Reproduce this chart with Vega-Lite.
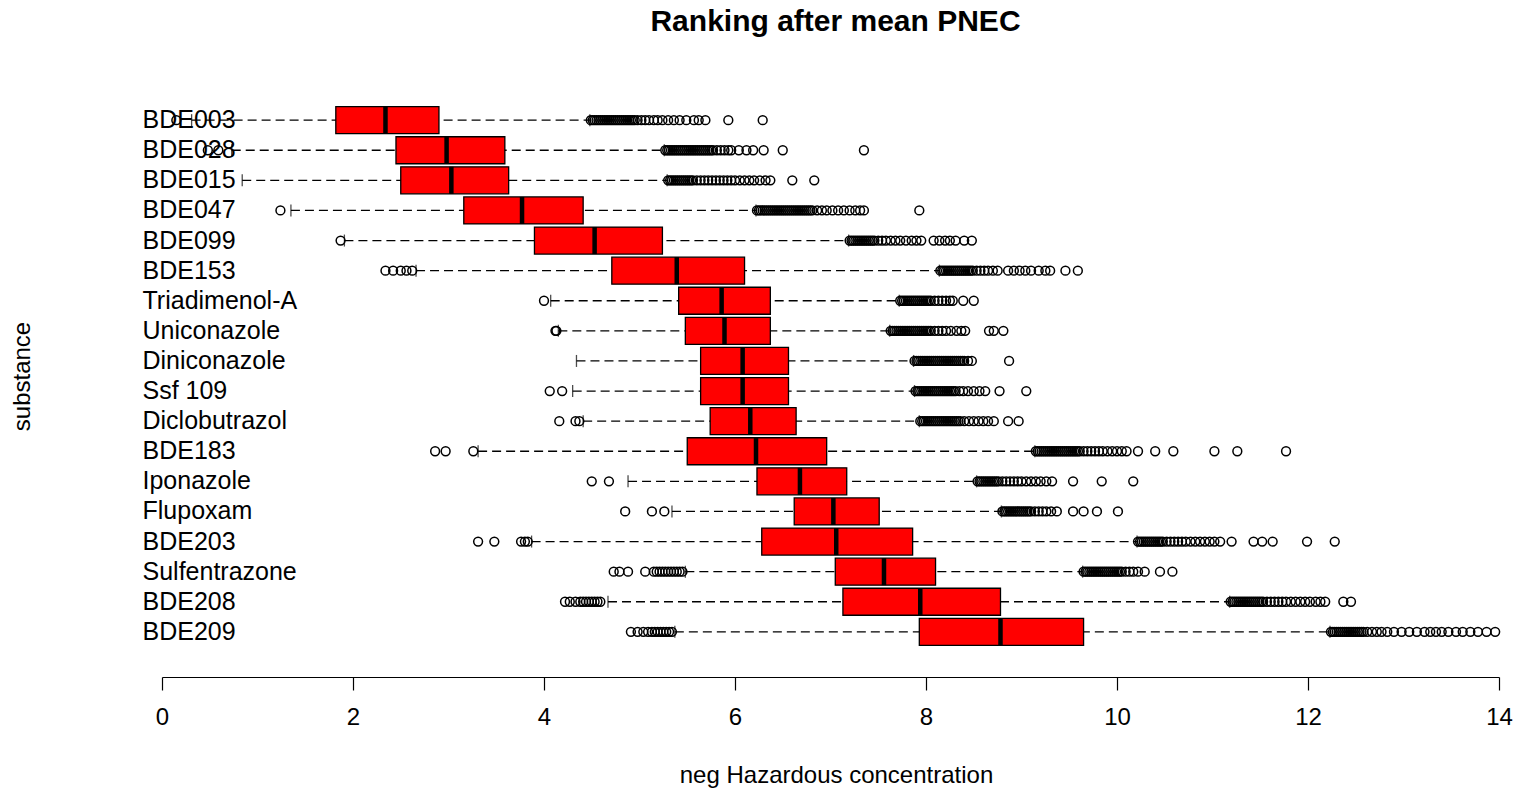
{
  "$schema": "https://vega.github.io/schema/vega-lite/v6.json",
  "width": 1337,
  "height": 602,
  "autosize": "none",
  "padding": {"left": 162, "top": 75, "right": 20, "bottom": 114},
  "background": "white",
  "title": {
    "text": "Ranking after mean PNEC",
    "font": "Liberation Sans",
    "fontSize": 30,
    "fontWeight": "bold",
    "color": "black",
    "anchor": "middle",
    "frame": "group",
    "baseline": "alphabetic",
    "offset": 44,
    "dx": 5,
    "dy": 30
  },
  "config": {
    "view": {"stroke": null},
    "axis": {"grid": false, "labelFont": "Liberation Sans", "titleFont": "Liberation Sans", "labelColor": "black", "titleColor": "black", "titleFontWeight": "normal"}
  },
  "datasets": {
    "box": [
      {"s": "BDE003", "lo": 0.31, "q1": 1.82, "med": 2.34, "q3": 2.90, "hi": 4.48},
      {"s": "BDE028", "lo": 0.73, "q1": 2.45, "med": 2.98, "q3": 3.59, "hi": 5.26},
      {"s": "BDE015", "lo": 0.84, "q1": 2.50, "med": 3.03, "q3": 3.63, "hi": 5.29},
      {"s": "BDE047", "lo": 1.35, "q1": 3.16, "med": 3.77, "q3": 4.41, "hi": 6.22},
      {"s": "BDE099", "lo": 1.91, "q1": 3.90, "med": 4.53, "q3": 5.24, "hi": 7.19},
      {"s": "BDE153", "lo": 2.66, "q1": 4.71, "med": 5.39, "q3": 6.10, "hi": 8.14},
      {"s": "Triadimenol-A", "lo": 4.07, "q1": 5.41, "med": 5.86, "q3": 6.37, "hi": 7.72},
      {"s": "Uniconazole", "lo": 4.15, "q1": 5.48, "med": 5.89, "q3": 6.37, "hi": 7.62},
      {"s": "Diniconazole", "lo": 4.34, "q1": 5.64, "med": 6.08, "q3": 6.56, "hi": 7.87},
      {"s": "Ssf 109", "lo": 4.30, "q1": 5.64, "med": 6.08, "q3": 6.56, "hi": 7.88},
      {"s": "Diclobutrazol", "lo": 4.41, "q1": 5.74, "med": 6.16, "q3": 6.64, "hi": 7.93},
      {"s": "BDE183", "lo": 3.31, "q1": 5.50, "med": 6.22, "q3": 6.96, "hi": 9.14},
      {"s": "Iponazole", "lo": 4.88, "q1": 6.23, "med": 6.68, "q3": 7.17, "hi": 8.53},
      {"s": "Flupoxam", "lo": 5.34, "q1": 6.62, "med": 7.03, "q3": 7.51, "hi": 8.79},
      {"s": "BDE203", "lo": 3.87, "q1": 6.28, "med": 7.06, "q3": 7.86, "hi": 10.21},
      {"s": "Sulfentrazone", "lo": 5.48, "q1": 7.05, "med": 7.56, "q3": 8.10, "hi": 9.64},
      {"s": "BDE208", "lo": 4.67, "q1": 7.13, "med": 7.94, "q3": 8.78, "hi": 11.18},
      {"s": "BDE209", "lo": 5.37, "q1": 7.93, "med": 8.78, "q3": 9.65, "hi": 12.23}
    ],
    "out": [
      {"s":"BDE003","v":0.15},
      {"s":"BDE003","v":4.49},{"s":"BDE003","v":4.51},{"s":"BDE003","v":4.53},{"s":"BDE003","v":4.55},{"s":"BDE003","v":4.57},{"s":"BDE003","v":4.59},{"s":"BDE003","v":4.61},{"s":"BDE003","v":4.63},{"s":"BDE003","v":4.65},{"s":"BDE003","v":4.67},{"s":"BDE003","v":4.69},{"s":"BDE003","v":4.71},{"s":"BDE003","v":4.73},{"s":"BDE003","v":4.75},{"s":"BDE003","v":4.77},{"s":"BDE003","v":4.79},{"s":"BDE003","v":4.81},{"s":"BDE003","v":4.83},{"s":"BDE003","v":4.85},{"s":"BDE003","v":4.87},{"s":"BDE003","v":4.89},{"s":"BDE003","v":4.91},{"s":"BDE003","v":4.93},{"s":"BDE003","v":4.95},
      {"s":"BDE003","v":4.98},{"s":"BDE003","v":5.02},{"s":"BDE003","v":5.06},{"s":"BDE003","v":5.10},{"s":"BDE003","v":5.15},{"s":"BDE003","v":5.19},{"s":"BDE003","v":5.24},{"s":"BDE003","v":5.30},{"s":"BDE003","v":5.36},{"s":"BDE003","v":5.42},{"s":"BDE003","v":5.49},{"s":"BDE003","v":5.57},{"s":"BDE003","v":5.62},{"s":"BDE003","v":5.69},{"s":"BDE003","v":5.93},{"s":"BDE003","v":6.29},
      {"s":"BDE028","v":0.48},{"s":"BDE028","v":0.59},
      {"s":"BDE028","v":5.27},{"s":"BDE028","v":5.29},{"s":"BDE028","v":5.31},{"s":"BDE028","v":5.33},{"s":"BDE028","v":5.35},{"s":"BDE028","v":5.37},{"s":"BDE028","v":5.39},{"s":"BDE028","v":5.41},{"s":"BDE028","v":5.43},{"s":"BDE028","v":5.45},{"s":"BDE028","v":5.47},{"s":"BDE028","v":5.49},{"s":"BDE028","v":5.51},{"s":"BDE028","v":5.53},{"s":"BDE028","v":5.55},{"s":"BDE028","v":5.57},{"s":"BDE028","v":5.59},{"s":"BDE028","v":5.61},{"s":"BDE028","v":5.63},{"s":"BDE028","v":5.65},{"s":"BDE028","v":5.67},{"s":"BDE028","v":5.69},{"s":"BDE028","v":5.71},{"s":"BDE028","v":5.73},{"s":"BDE028","v":5.75},{"s":"BDE028","v":5.77},
      {"s":"BDE028","v":5.81},{"s":"BDE028","v":5.85},{"s":"BDE028","v":5.89},{"s":"BDE028","v":5.93},{"s":"BDE028","v":5.96},{"s":"BDE028","v":6.04},{"s":"BDE028","v":6.12},{"s":"BDE028","v":6.19},{"s":"BDE028","v":6.30},{"s":"BDE028","v":6.50},{"s":"BDE028","v":7.35},
      {"s":"BDE015","v":5.30},{"s":"BDE015","v":5.32},{"s":"BDE015","v":5.34},{"s":"BDE015","v":5.36},{"s":"BDE015","v":5.38},{"s":"BDE015","v":5.40},{"s":"BDE015","v":5.42},{"s":"BDE015","v":5.44},{"s":"BDE015","v":5.46},{"s":"BDE015","v":5.48},{"s":"BDE015","v":5.50},{"s":"BDE015","v":5.52},{"s":"BDE015","v":5.54},{"s":"BDE015","v":5.56},
      {"s":"BDE015","v":5.60},{"s":"BDE015","v":5.64},{"s":"BDE015","v":5.68},{"s":"BDE015","v":5.72},{"s":"BDE015","v":5.76},{"s":"BDE015","v":5.80},{"s":"BDE015","v":5.84},{"s":"BDE015","v":5.88},{"s":"BDE015","v":5.92},{"s":"BDE015","v":5.96},{"s":"BDE015","v":6.00},{"s":"BDE015","v":6.05},{"s":"BDE015","v":6.10},{"s":"BDE015","v":6.15},{"s":"BDE015","v":6.20},{"s":"BDE015","v":6.26},{"s":"BDE015","v":6.32},{"s":"BDE015","v":6.37},{"s":"BDE015","v":6.60},{"s":"BDE015","v":6.83},
      {"s":"BDE047","v":1.24},
      {"s":"BDE047","v":6.23},{"s":"BDE047","v":6.25},{"s":"BDE047","v":6.27},{"s":"BDE047","v":6.29},{"s":"BDE047","v":6.31},{"s":"BDE047","v":6.33},{"s":"BDE047","v":6.35},{"s":"BDE047","v":6.37},{"s":"BDE047","v":6.39},{"s":"BDE047","v":6.41},{"s":"BDE047","v":6.43},{"s":"BDE047","v":6.45},{"s":"BDE047","v":6.47},{"s":"BDE047","v":6.49},{"s":"BDE047","v":6.51},{"s":"BDE047","v":6.53},{"s":"BDE047","v":6.55},{"s":"BDE047","v":6.57},{"s":"BDE047","v":6.59},{"s":"BDE047","v":6.61},{"s":"BDE047","v":6.63},{"s":"BDE047","v":6.65},{"s":"BDE047","v":6.67},{"s":"BDE047","v":6.69},{"s":"BDE047","v":6.71},{"s":"BDE047","v":6.73},{"s":"BDE047","v":6.75},{"s":"BDE047","v":6.77},{"s":"BDE047","v":6.79},{"s":"BDE047","v":6.81},
      {"s":"BDE047","v":6.86},{"s":"BDE047","v":6.91},{"s":"BDE047","v":6.96},{"s":"BDE047","v":7.02},{"s":"BDE047","v":7.08},{"s":"BDE047","v":7.14},{"s":"BDE047","v":7.20},{"s":"BDE047","v":7.26},{"s":"BDE047","v":7.31},{"s":"BDE047","v":7.35},{"s":"BDE047","v":7.93},
      {"s":"BDE099","v":1.87},
      {"s":"BDE099","v":7.20},{"s":"BDE099","v":7.22},{"s":"BDE099","v":7.24},{"s":"BDE099","v":7.26},{"s":"BDE099","v":7.28},{"s":"BDE099","v":7.30},{"s":"BDE099","v":7.32},{"s":"BDE099","v":7.34},{"s":"BDE099","v":7.36},{"s":"BDE099","v":7.38},{"s":"BDE099","v":7.40},{"s":"BDE099","v":7.42},{"s":"BDE099","v":7.44},{"s":"BDE099","v":7.46},
      {"s":"BDE099","v":7.50},{"s":"BDE099","v":7.54},{"s":"BDE099","v":7.58},{"s":"BDE099","v":7.63},{"s":"BDE099","v":7.68},{"s":"BDE099","v":7.73},{"s":"BDE099","v":7.79},{"s":"BDE099","v":7.85},{"s":"BDE099","v":7.90},{"s":"BDE099","v":7.95},{"s":"BDE099","v":8.08},{"s":"BDE099","v":8.14},{"s":"BDE099","v":8.20},{"s":"BDE099","v":8.25},{"s":"BDE099","v":8.31},{"s":"BDE099","v":8.40},{"s":"BDE099","v":8.48},
      {"s":"BDE153","v":2.34},{"s":"BDE153","v":2.42},{"s":"BDE153","v":2.50},{"s":"BDE153","v":2.56},{"s":"BDE153","v":2.62},
      {"s":"BDE153","v":8.15},{"s":"BDE153","v":8.17},{"s":"BDE153","v":8.19},{"s":"BDE153","v":8.21},{"s":"BDE153","v":8.23},{"s":"BDE153","v":8.25},{"s":"BDE153","v":8.27},{"s":"BDE153","v":8.29},{"s":"BDE153","v":8.31},{"s":"BDE153","v":8.33},{"s":"BDE153","v":8.35},{"s":"BDE153","v":8.37},{"s":"BDE153","v":8.39},{"s":"BDE153","v":8.41},{"s":"BDE153","v":8.43},{"s":"BDE153","v":8.45},{"s":"BDE153","v":8.47},{"s":"BDE153","v":8.49},
      {"s":"BDE153","v":8.53},{"s":"BDE153","v":8.57},{"s":"BDE153","v":8.61},{"s":"BDE153","v":8.65},{"s":"BDE153","v":8.70},{"s":"BDE153","v":8.75},{"s":"BDE153","v":8.86},{"s":"BDE153","v":8.92},{"s":"BDE153","v":8.98},{"s":"BDE153","v":9.04},{"s":"BDE153","v":9.10},{"s":"BDE153","v":9.18},{"s":"BDE153","v":9.25},{"s":"BDE153","v":9.30},{"s":"BDE153","v":9.46},{"s":"BDE153","v":9.59},
      {"s":"Triadimenol-A","v":4.00},
      {"s":"Triadimenol-A","v":7.73},{"s":"Triadimenol-A","v":7.75},{"s":"Triadimenol-A","v":7.77},{"s":"Triadimenol-A","v":7.79},{"s":"Triadimenol-A","v":7.81},{"s":"Triadimenol-A","v":7.83},{"s":"Triadimenol-A","v":7.85},{"s":"Triadimenol-A","v":7.87},{"s":"Triadimenol-A","v":7.89},{"s":"Triadimenol-A","v":7.91},{"s":"Triadimenol-A","v":7.93},{"s":"Triadimenol-A","v":7.95},{"s":"Triadimenol-A","v":7.97},{"s":"Triadimenol-A","v":7.99},{"s":"Triadimenol-A","v":8.01},{"s":"Triadimenol-A","v":8.03},{"s":"Triadimenol-A","v":8.05},
      {"s":"Triadimenol-A","v":8.09},{"s":"Triadimenol-A","v":8.13},{"s":"Triadimenol-A","v":8.17},{"s":"Triadimenol-A","v":8.21},{"s":"Triadimenol-A","v":8.25},{"s":"Triadimenol-A","v":8.28},{"s":"Triadimenol-A","v":8.39},{"s":"Triadimenol-A","v":8.50},
      {"s":"Uniconazole","v":4.12},{"s":"Uniconazole","v":4.13},
      {"s":"Uniconazole","v":7.63},{"s":"Uniconazole","v":7.65},{"s":"Uniconazole","v":7.67},{"s":"Uniconazole","v":7.69},{"s":"Uniconazole","v":7.71},{"s":"Uniconazole","v":7.73},{"s":"Uniconazole","v":7.75},{"s":"Uniconazole","v":7.77},{"s":"Uniconazole","v":7.79},{"s":"Uniconazole","v":7.81},{"s":"Uniconazole","v":7.83},{"s":"Uniconazole","v":7.85},{"s":"Uniconazole","v":7.87},{"s":"Uniconazole","v":7.89},{"s":"Uniconazole","v":7.91},{"s":"Uniconazole","v":7.93},{"s":"Uniconazole","v":7.95},{"s":"Uniconazole","v":7.97},{"s":"Uniconazole","v":7.99},{"s":"Uniconazole","v":8.01},{"s":"Uniconazole","v":8.03},{"s":"Uniconazole","v":8.05},
      {"s":"Uniconazole","v":8.09},{"s":"Uniconazole","v":8.13},{"s":"Uniconazole","v":8.17},{"s":"Uniconazole","v":8.21},{"s":"Uniconazole","v":8.26},{"s":"Uniconazole","v":8.32},{"s":"Uniconazole","v":8.37},{"s":"Uniconazole","v":8.41},{"s":"Uniconazole","v":8.66},{"s":"Uniconazole","v":8.71},{"s":"Uniconazole","v":8.81},
      {"s":"Diniconazole","v":7.88},{"s":"Diniconazole","v":7.90},{"s":"Diniconazole","v":7.92},{"s":"Diniconazole","v":7.94},{"s":"Diniconazole","v":7.96},{"s":"Diniconazole","v":7.98},{"s":"Diniconazole","v":8.00},{"s":"Diniconazole","v":8.02},{"s":"Diniconazole","v":8.04},{"s":"Diniconazole","v":8.06},{"s":"Diniconazole","v":8.08},{"s":"Diniconazole","v":8.10},{"s":"Diniconazole","v":8.12},{"s":"Diniconazole","v":8.14},{"s":"Diniconazole","v":8.16},{"s":"Diniconazole","v":8.18},{"s":"Diniconazole","v":8.20},{"s":"Diniconazole","v":8.22},{"s":"Diniconazole","v":8.24},{"s":"Diniconazole","v":8.26},{"s":"Diniconazole","v":8.28},{"s":"Diniconazole","v":8.30},{"s":"Diniconazole","v":8.32},{"s":"Diniconazole","v":8.34},{"s":"Diniconazole","v":8.36},{"s":"Diniconazole","v":8.38},{"s":"Diniconazole","v":8.40},
      {"s":"Diniconazole","v":8.44},{"s":"Diniconazole","v":8.48},{"s":"Diniconazole","v":8.87},
      {"s":"Ssf 109","v":4.06},{"s":"Ssf 109","v":4.19},
      {"s":"Ssf 109","v":7.89},{"s":"Ssf 109","v":7.91},{"s":"Ssf 109","v":7.93},{"s":"Ssf 109","v":7.95},{"s":"Ssf 109","v":7.97},{"s":"Ssf 109","v":7.99},{"s":"Ssf 109","v":8.01},{"s":"Ssf 109","v":8.03},{"s":"Ssf 109","v":8.05},{"s":"Ssf 109","v":8.07},{"s":"Ssf 109","v":8.09},{"s":"Ssf 109","v":8.11},{"s":"Ssf 109","v":8.13},{"s":"Ssf 109","v":8.15},{"s":"Ssf 109","v":8.17},{"s":"Ssf 109","v":8.19},{"s":"Ssf 109","v":8.21},{"s":"Ssf 109","v":8.23},{"s":"Ssf 109","v":8.25},{"s":"Ssf 109","v":8.27},{"s":"Ssf 109","v":8.29},{"s":"Ssf 109","v":8.31},
      {"s":"Ssf 109","v":8.35},{"s":"Ssf 109","v":8.39},{"s":"Ssf 109","v":8.44},{"s":"Ssf 109","v":8.50},{"s":"Ssf 109","v":8.56},{"s":"Ssf 109","v":8.62},{"s":"Ssf 109","v":8.77},{"s":"Ssf 109","v":9.05},
      {"s":"Diclobutrazol","v":4.16},{"s":"Diclobutrazol","v":4.33},{"s":"Diclobutrazol","v":4.37},
      {"s":"Diclobutrazol","v":7.94},{"s":"Diclobutrazol","v":7.96},{"s":"Diclobutrazol","v":7.98},{"s":"Diclobutrazol","v":8.00},{"s":"Diclobutrazol","v":8.02},{"s":"Diclobutrazol","v":8.04},{"s":"Diclobutrazol","v":8.06},{"s":"Diclobutrazol","v":8.08},{"s":"Diclobutrazol","v":8.10},{"s":"Diclobutrazol","v":8.12},{"s":"Diclobutrazol","v":8.14},{"s":"Diclobutrazol","v":8.16},{"s":"Diclobutrazol","v":8.18},{"s":"Diclobutrazol","v":8.20},{"s":"Diclobutrazol","v":8.22},{"s":"Diclobutrazol","v":8.24},{"s":"Diclobutrazol","v":8.26},{"s":"Diclobutrazol","v":8.28},{"s":"Diclobutrazol","v":8.30},{"s":"Diclobutrazol","v":8.32},{"s":"Diclobutrazol","v":8.34},{"s":"Diclobutrazol","v":8.36},
      {"s":"Diclobutrazol","v":8.40},{"s":"Diclobutrazol","v":8.45},{"s":"Diclobutrazol","v":8.50},{"s":"Diclobutrazol","v":8.55},{"s":"Diclobutrazol","v":8.60},{"s":"Diclobutrazol","v":8.65},{"s":"Diclobutrazol","v":8.71},{"s":"Diclobutrazol","v":8.86},{"s":"Diclobutrazol","v":8.97},
      {"s":"BDE183","v":2.86},{"s":"BDE183","v":2.97},{"s":"BDE183","v":3.26},
      {"s":"BDE183","v":9.15},{"s":"BDE183","v":9.17},{"s":"BDE183","v":9.19},{"s":"BDE183","v":9.21},{"s":"BDE183","v":9.23},{"s":"BDE183","v":9.25},{"s":"BDE183","v":9.27},{"s":"BDE183","v":9.29},{"s":"BDE183","v":9.31},{"s":"BDE183","v":9.33},{"s":"BDE183","v":9.35},{"s":"BDE183","v":9.37},{"s":"BDE183","v":9.39},{"s":"BDE183","v":9.41},{"s":"BDE183","v":9.43},{"s":"BDE183","v":9.45},{"s":"BDE183","v":9.47},{"s":"BDE183","v":9.49},{"s":"BDE183","v":9.51},{"s":"BDE183","v":9.53},{"s":"BDE183","v":9.55},{"s":"BDE183","v":9.57},{"s":"BDE183","v":9.59},{"s":"BDE183","v":9.61},
      {"s":"BDE183","v":9.65},{"s":"BDE183","v":9.69},{"s":"BDE183","v":9.73},{"s":"BDE183","v":9.77},{"s":"BDE183","v":9.81},{"s":"BDE183","v":9.85},{"s":"BDE183","v":9.90},{"s":"BDE183","v":9.95},{"s":"BDE183","v":10.00},{"s":"BDE183","v":10.05},{"s":"BDE183","v":10.10},{"s":"BDE183","v":10.22},{"s":"BDE183","v":10.40},{"s":"BDE183","v":10.59},{"s":"BDE183","v":11.02},{"s":"BDE183","v":11.26},{"s":"BDE183","v":11.77},
      {"s":"Iponazole","v":4.50},{"s":"Iponazole","v":4.68},
      {"s":"Iponazole","v":8.54},{"s":"Iponazole","v":8.56},{"s":"Iponazole","v":8.58},{"s":"Iponazole","v":8.60},{"s":"Iponazole","v":8.62},{"s":"Iponazole","v":8.64},{"s":"Iponazole","v":8.66},{"s":"Iponazole","v":8.68},{"s":"Iponazole","v":8.70},{"s":"Iponazole","v":8.72},{"s":"Iponazole","v":8.74},{"s":"Iponazole","v":8.76},
      {"s":"Iponazole","v":8.80},{"s":"Iponazole","v":8.84},{"s":"Iponazole","v":8.88},{"s":"Iponazole","v":8.92},{"s":"Iponazole","v":8.96},{"s":"Iponazole","v":9.00},{"s":"Iponazole","v":9.05},{"s":"Iponazole","v":9.10},{"s":"Iponazole","v":9.15},{"s":"Iponazole","v":9.20},{"s":"Iponazole","v":9.26},{"s":"Iponazole","v":9.32},{"s":"Iponazole","v":9.54},{"s":"Iponazole","v":9.84},{"s":"Iponazole","v":10.17},
      {"s":"Flupoxam","v":4.85},{"s":"Flupoxam","v":5.13},{"s":"Flupoxam","v":5.26},
      {"s":"Flupoxam","v":8.80},{"s":"Flupoxam","v":8.82},{"s":"Flupoxam","v":8.84},{"s":"Flupoxam","v":8.86},{"s":"Flupoxam","v":8.88},{"s":"Flupoxam","v":8.90},{"s":"Flupoxam","v":8.92},{"s":"Flupoxam","v":8.94},{"s":"Flupoxam","v":8.96},{"s":"Flupoxam","v":8.98},{"s":"Flupoxam","v":9.00},{"s":"Flupoxam","v":9.02},{"s":"Flupoxam","v":9.04},{"s":"Flupoxam","v":9.06},{"s":"Flupoxam","v":9.08},{"s":"Flupoxam","v":9.10},
      {"s":"Flupoxam","v":9.14},{"s":"Flupoxam","v":9.18},{"s":"Flupoxam","v":9.22},{"s":"Flupoxam","v":9.26},{"s":"Flupoxam","v":9.31},{"s":"Flupoxam","v":9.37},{"s":"Flupoxam","v":9.54},{"s":"Flupoxam","v":9.65},{"s":"Flupoxam","v":9.79},{"s":"Flupoxam","v":10.01},
      {"s":"BDE203","v":3.31},{"s":"BDE203","v":3.48},{"s":"BDE203","v":3.76},{"s":"BDE203","v":3.80},{"s":"BDE203","v":3.83},
      {"s":"BDE203","v":10.22},{"s":"BDE203","v":10.24},{"s":"BDE203","v":10.26},{"s":"BDE203","v":10.28},{"s":"BDE203","v":10.30},{"s":"BDE203","v":10.32},{"s":"BDE203","v":10.34},{"s":"BDE203","v":10.36},{"s":"BDE203","v":10.38},{"s":"BDE203","v":10.40},{"s":"BDE203","v":10.42},{"s":"BDE203","v":10.44},{"s":"BDE203","v":10.46},{"s":"BDE203","v":10.48},
      {"s":"BDE203","v":10.52},{"s":"BDE203","v":10.56},{"s":"BDE203","v":10.60},{"s":"BDE203","v":10.64},{"s":"BDE203","v":10.68},{"s":"BDE203","v":10.72},{"s":"BDE203","v":10.77},{"s":"BDE203","v":10.82},{"s":"BDE203","v":10.87},{"s":"BDE203","v":10.92},{"s":"BDE203","v":10.97},{"s":"BDE203","v":11.02},{"s":"BDE203","v":11.08},{"s":"BDE203","v":11.20},{"s":"BDE203","v":11.43},{"s":"BDE203","v":11.52},{"s":"BDE203","v":11.63},{"s":"BDE203","v":11.99},{"s":"BDE203","v":12.28},
      {"s":"Sulfentrazone","v":4.73},{"s":"Sulfentrazone","v":4.79},{"s":"Sulfentrazone","v":4.88},{"s":"Sulfentrazone","v":5.06},{"s":"Sulfentrazone","v":5.15},{"s":"Sulfentrazone","v":5.18},{"s":"Sulfentrazone","v":5.21},{"s":"Sulfentrazone","v":5.24},{"s":"Sulfentrazone","v":5.27},{"s":"Sulfentrazone","v":5.30},{"s":"Sulfentrazone","v":5.33},{"s":"Sulfentrazone","v":5.36},{"s":"Sulfentrazone","v":5.39},{"s":"Sulfentrazone","v":5.42},{"s":"Sulfentrazone","v":5.45},
      {"s":"Sulfentrazone","v":9.65},{"s":"Sulfentrazone","v":9.67},{"s":"Sulfentrazone","v":9.69},{"s":"Sulfentrazone","v":9.71},{"s":"Sulfentrazone","v":9.73},{"s":"Sulfentrazone","v":9.75},{"s":"Sulfentrazone","v":9.77},{"s":"Sulfentrazone","v":9.79},{"s":"Sulfentrazone","v":9.81},{"s":"Sulfentrazone","v":9.83},{"s":"Sulfentrazone","v":9.85},{"s":"Sulfentrazone","v":9.87},{"s":"Sulfentrazone","v":9.89},{"s":"Sulfentrazone","v":9.91},{"s":"Sulfentrazone","v":9.93},{"s":"Sulfentrazone","v":9.95},{"s":"Sulfentrazone","v":9.97},{"s":"Sulfentrazone","v":9.99},{"s":"Sulfentrazone","v":10.01},{"s":"Sulfentrazone","v":10.03},{"s":"Sulfentrazone","v":10.05},
      {"s":"Sulfentrazone","v":10.09},{"s":"Sulfentrazone","v":10.13},{"s":"Sulfentrazone","v":10.17},{"s":"Sulfentrazone","v":10.22},{"s":"Sulfentrazone","v":10.29},{"s":"Sulfentrazone","v":10.45},{"s":"Sulfentrazone","v":10.58},
      {"s":"BDE208","v":4.22},{"s":"BDE208","v":4.27},{"s":"BDE208","v":4.33},{"s":"BDE208","v":4.38},{"s":"BDE208","v":4.41},{"s":"BDE208","v":4.44},{"s":"BDE208","v":4.47},{"s":"BDE208","v":4.50},{"s":"BDE208","v":4.53},{"s":"BDE208","v":4.56},{"s":"BDE208","v":4.59},
      {"s":"BDE208","v":11.19},{"s":"BDE208","v":11.21},{"s":"BDE208","v":11.23},{"s":"BDE208","v":11.25},{"s":"BDE208","v":11.27},{"s":"BDE208","v":11.29},{"s":"BDE208","v":11.31},{"s":"BDE208","v":11.33},{"s":"BDE208","v":11.35},{"s":"BDE208","v":11.37},{"s":"BDE208","v":11.39},{"s":"BDE208","v":11.41},{"s":"BDE208","v":11.43},{"s":"BDE208","v":11.45},{"s":"BDE208","v":11.47},{"s":"BDE208","v":11.49},{"s":"BDE208","v":11.51},{"s":"BDE208","v":11.53},
      {"s":"BDE208","v":11.57},{"s":"BDE208","v":11.61},{"s":"BDE208","v":11.65},{"s":"BDE208","v":11.69},{"s":"BDE208","v":11.73},{"s":"BDE208","v":11.77},{"s":"BDE208","v":11.82},{"s":"BDE208","v":11.87},{"s":"BDE208","v":11.92},{"s":"BDE208","v":11.97},{"s":"BDE208","v":12.02},{"s":"BDE208","v":12.08},{"s":"BDE208","v":12.13},{"s":"BDE208","v":12.18},{"s":"BDE208","v":12.37},{"s":"BDE208","v":12.45},
      {"s":"BDE209","v":4.91},{"s":"BDE209","v":4.98},{"s":"BDE209","v":5.04},{"s":"BDE209","v":5.09},{"s":"BDE209","v":5.13},{"s":"BDE209","v":5.16},{"s":"BDE209","v":5.19},{"s":"BDE209","v":5.22},{"s":"BDE209","v":5.25},{"s":"BDE209","v":5.28},{"s":"BDE209","v":5.31},{"s":"BDE209","v":5.34},
      {"s":"BDE209","v":12.24},{"s":"BDE209","v":12.26},{"s":"BDE209","v":12.28},{"s":"BDE209","v":12.30},{"s":"BDE209","v":12.32},{"s":"BDE209","v":12.34},{"s":"BDE209","v":12.36},{"s":"BDE209","v":12.38},{"s":"BDE209","v":12.40},{"s":"BDE209","v":12.42},{"s":"BDE209","v":12.44},{"s":"BDE209","v":12.46},{"s":"BDE209","v":12.48},{"s":"BDE209","v":12.50},{"s":"BDE209","v":12.52},{"s":"BDE209","v":12.54},{"s":"BDE209","v":12.56},{"s":"BDE209","v":12.58},
      {"s":"BDE209","v":12.62},{"s":"BDE209","v":12.67},{"s":"BDE209","v":12.72},{"s":"BDE209","v":12.77},{"s":"BDE209","v":12.83},{"s":"BDE209","v":12.90},{"s":"BDE209","v":12.98},{"s":"BDE209","v":13.06},{"s":"BDE209","v":13.14},{"s":"BDE209","v":13.22},{"s":"BDE209","v":13.28},{"s":"BDE209","v":13.34},{"s":"BDE209","v":13.40},{"s":"BDE209","v":13.47},{"s":"BDE209","v":13.55},{"s":"BDE209","v":13.62},{"s":"BDE209","v":13.70},{"s":"BDE209","v":13.78},{"s":"BDE209","v":13.87},{"s":"BDE209","v":13.96}
    ]
  },
  "encoding": {
    "y": {
      "field": "s",
      "type": "nominal",
      "scale": {
        "type": "band",
        "paddingInner": 0,
        "paddingOuter": 1,
        "domain": ["BDE003", "BDE028", "BDE015", "BDE047", "BDE099", "BDE153", "Triadimenol-A", "Uniconazole", "Diniconazole", "Ssf 109", "Diclobutrazol", "BDE183", "Iponazole", "Flupoxam", "BDE203", "Sulfentrazone", "BDE208", "BDE209"]
      },
      "axis": {
        "title": "substance",
        "domain": false,
        "ticks": false,
        "tickSize": 0,
        "labelAlign": "left",
        "labelBaseline": "middle",
        "labelPadding": 20,
        "labelFontSize": 25,
        "labelLimit": 0,
        "titleFontSize": 24,
        "titleAngle": -90,
        "titleX": -140,
        "titleY": 301,
        "titleAlign": "center",
        "titleBaseline": "middle"
      }
    }
  },
  "layer": [
    {
      "data": {"name": "box"},
      "mark": {"type": "rule", "color": "black", "strokeWidth": 1.3, "strokeDash": [9, 5]},
      "encoding": {
        "x": {
          "field": "lo",
          "type": "quantitative",
          "scale": {"domain": [0, 14], "nice": false, "zero": false},
          "axis": {
            "title": "neg Hazardous concentration",
            "values": [0, 2, 4, 6, 8, 10, 12, 14],
            "format": "d",
            "domainColor": "black",
            "domainWidth": 1.2,
            "tickColor": "black",
            "tickWidth": 1.2,
            "tickSize": 13,
            "labelFontSize": 24,
            "labelPadding": 15,
            "labelFlush": false,
            "titleFontSize": 24,
            "titleX": 674,
            "titleY": 98,
            "titleAlign": "center",
            "titleBaseline": "middle"
          }
        },
        "x2": {"field": "hi"}
      }
    },
    {
      "data": {"name": "box"},
      "mark": {"type": "tick", "color": "black", "thickness": 1.3, "size": 12},
      "encoding": {"x": {"field": "lo", "type": "quantitative"}}
    },
    {
      "data": {"name": "box"},
      "mark": {"type": "tick", "color": "black", "thickness": 1.3, "size": 12},
      "encoding": {"x": {"field": "hi", "type": "quantitative"}}
    },
    {
      "data": {"name": "box"},
      "mark": {"type": "bar", "fill": "#ff0000", "stroke": "black", "strokeWidth": 1.3, "size": 27},
      "encoding": {
        "x": {"field": "q1", "type": "quantitative"},
        "x2": {"field": "q3"}
      }
    },
    {
      "data": {"name": "box"},
      "mark": {"type": "tick", "color": "black", "thickness": 4.5, "size": 27, "opacity": 1},
      "encoding": {"x": {"field": "med", "type": "quantitative"}}
    },
    {
      "data": {"name": "out"},
      "mark": {"type": "point", "shape": "circle", "filled": false, "stroke": "black", "strokeWidth": 1.5, "size": 78, "opacity": 1},
      "encoding": {"x": {"field": "v", "type": "quantitative"}}
    }
  ]
}
